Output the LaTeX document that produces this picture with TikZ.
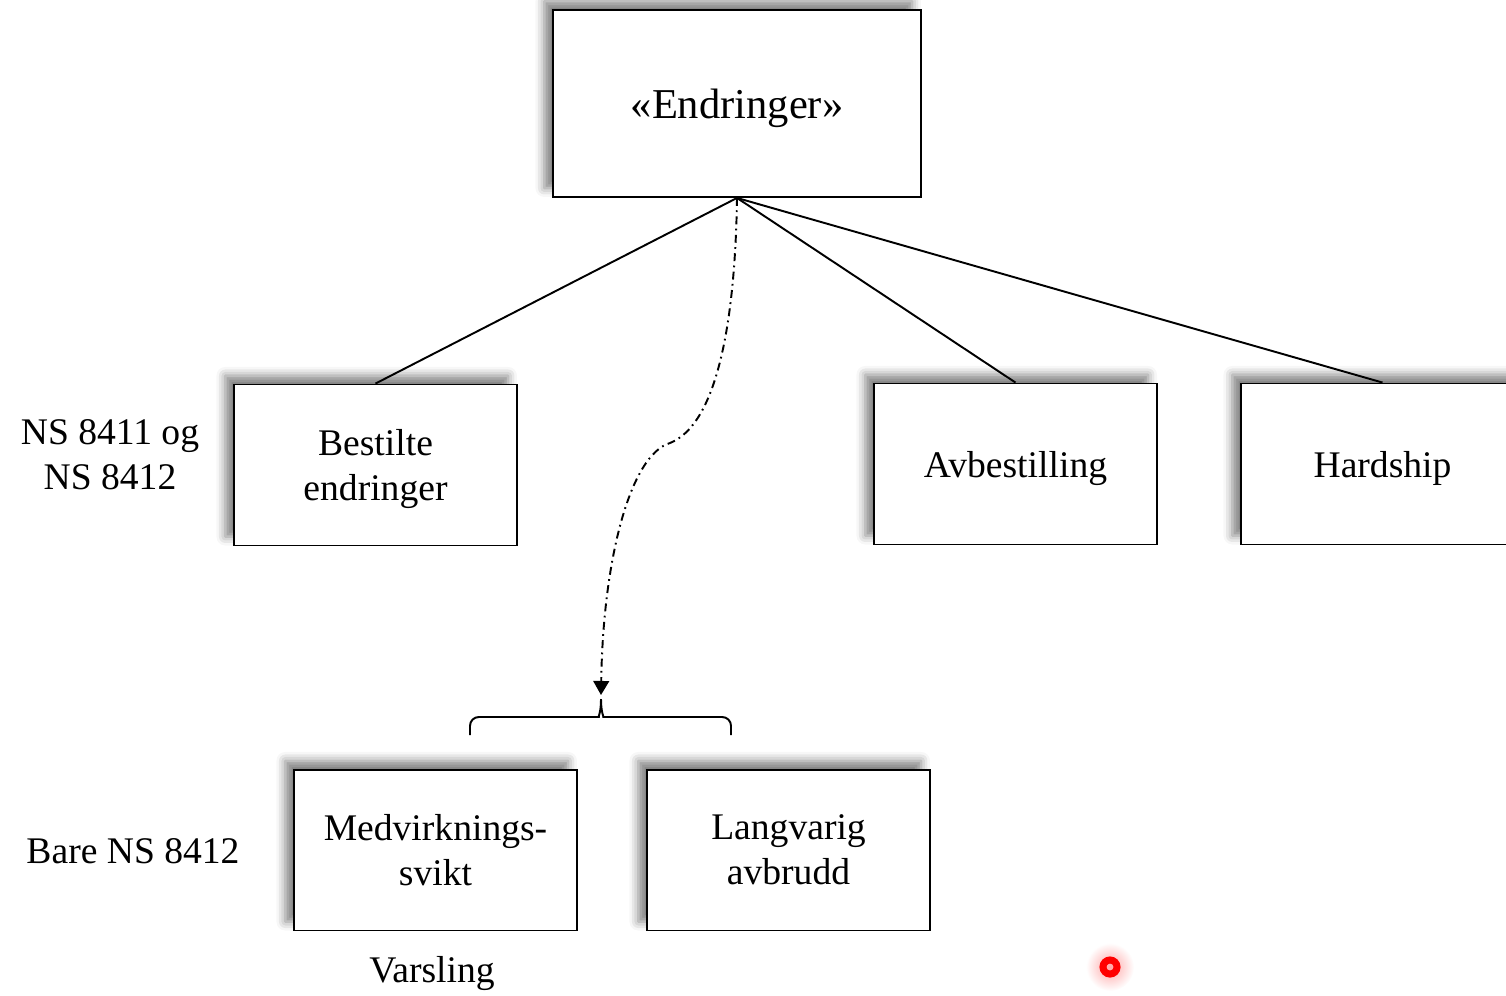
\documentclass[tikz,border=0pt]{standalone}
\usepackage{fontspec}
\setmainfont{Liberation Serif}
\usetikzlibrary{arrows.meta,shadows.blur}

\tikzset{
  boks/.style={draw, line width=1.1pt, fill=white, align=center,
    minimum width=5.66cm, minimum height=3.22cm, text depth=0pt,
    font=\fontsize{21.4pt}{25.6pt}\selectfont,
    blur shadow={shadow xshift=-5pt, shadow yshift=5pt,
      shadow blur radius=5pt, shadow opacity=50}},
  etikett/.style={align=center, font=\fontsize{21.4pt}{25.6pt}\selectfont},
  kant/.style={line width=1.1pt}
}

\begin{document}
\begin{tikzpicture}[x=0.02cm, y=-0.02cm]  % 1 enhet = 1 piksel

    \clip (0,0) rectangle (1506,995);

    % hovedboksen
    \node[boks, minimum width=7.36cm, minimum height=3.74cm,
      font=\fontsize{24.2pt}{29pt}\selectfont] (endr) at (737,103.5) {«Endringer»};

    % andre nivå
    \node[boks] (best) at (375.5,465) {Bestilte\\endringer};
    \node[boks] (avb) at (1015.5,464) {Avbestilling};
    \node[boks] (hard) at (1382.5,464) {Hardship};

    % tredje nivå
    \node[boks] (medv) at (435.5,850) {Medvirknings-\\svikt};
    \node[boks] (lang) at (788.5,850) {Langvarig\\avbrudd};

    % linjer fra hovedboksen
    \draw[kant] (endr.south) -- (best.north);
    \draw[kant] (endr.south) -- (avb.north);
    \draw[kant] (endr.south) -- (hard.north);

    % klammeparentes over nederste bokser
    \coordinate (klv) at (470,735);
    \coordinate (klh) at (731,735);
    \coordinate (spiss) at (601,699);
    \draw[kant, rounded corners=5pt] (klv) -- (470,717) -- (590,717)
      .. controls (598,717) and (601,713) .. (spiss);
    \draw[kant, rounded corners=5pt] (klh) -- (731,717) -- (612,717)
      .. controls (604,717) and (601,713) .. (spiss);

    % stiplet pil ned til klammen
    \draw[kant, dash pattern=on 4.5pt off 2.5pt on 1pt off 2.5pt,
      -{Triangle[length=8pt, width=9pt]}]
      (endr.south) .. controls (735,330) and (715,425) .. (670,443)
      .. controls (630,455) and (603,560) .. (601,695);

    % etiketter
    \node[etikett] (ns1) at (110,455) {NS 8411 og\\NS 8412};
    \node[etikett] (ns2) at (133,851) {Bare NS 8412};
    \node[etikett] (vars) at (432,973) {Varsling};

    % rød markør
    \shade[inner color=red!35, outer color=white] (1110,967) circle (24);
    \draw[red, line width=4pt] (1110,967) circle (7);

\end{tikzpicture}
\end{document}
